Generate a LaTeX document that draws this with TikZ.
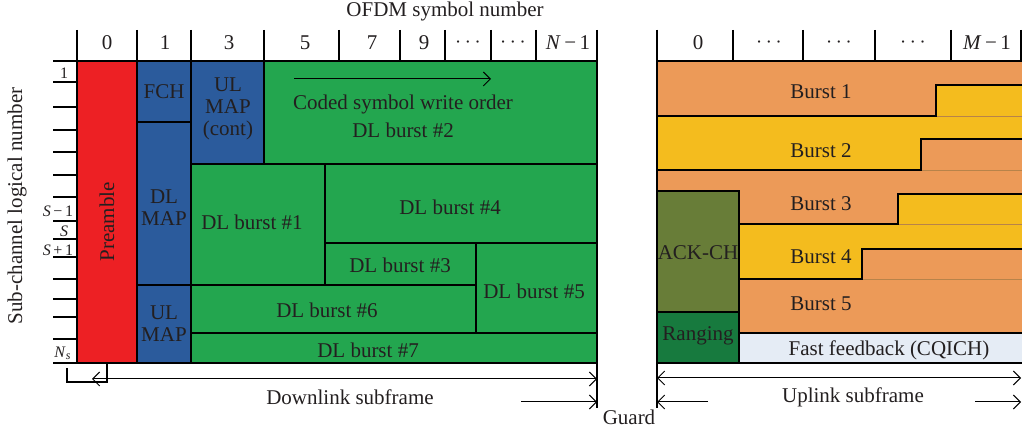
\documentclass[tikz,border=0pt]{standalone}
\usepackage{fontspec}
\setmainfont{Liberation Serif}
\usetikzlibrary{arrows.meta}
\definecolor{ink}{HTML}{231F20}
\definecolor{preamb}{HTML}{ED2024}
\definecolor{mapblue}{HTML}{2B5B9C}
\definecolor{dlgreen}{HTML}{23A64F}
\definecolor{ulorange}{HTML}{EC9A58}
\definecolor{ulyellow}{HTML}{F4BC1E}
\definecolor{ackolive}{HTML}{687D38}
\definecolor{rnggreen}{HTML}{177A3E}
\definecolor{cqich}{HTML}{E5ECF5}
\definecolor{seam}{HTML}{B7834A}
\tikzset{
  blk/.style={draw=black, line width=0.6pt},
  lbl/.style={text=ink, font=\fontsize{10.5}{11}\selectfont, align=center, inner sep=0pt},
  tiny/.style={text=ink, font=\fontsize{8}{9}\selectfont, inner sep=0pt},
  rule/.style={draw=black, line width=0.55pt},
  dim/.style={draw=black, line width=0.5pt, -{Straight Barb[length=3.5pt,width=7pt]}},
  dimboth/.style={draw=black, line width=0.5pt, {Straight Barb[length=3.5pt,width=7pt]}-{Straight Barb[length=3.5pt,width=7pt]}}
}
\begin{document}
\begin{tikzpicture}[x=0.5pt,y=-0.5pt]
\useasboundingbox (0,0) rectangle (1022,431);

% ---------- titles ----------
\node[lbl] (ofdm) at (445,11) {OFDM symbol number};
\node[lbl, rotate=90] (subch) at (17,206) {Sub-channel logical number};

% ---------- downlink header ----------
\foreach \xx in {77,137,191,264,339,400,445,491,536,597}
  \draw[rule] (\xx,30) -- (\xx,61);
\node[lbl] (d0) at (107,43) {0};
\node[lbl] (d1) at (165,43) {1};
\node[lbl] (d3) at (229,43) {3};
\node[lbl] (d5) at (305,43) {5};
\node[lbl] (d7) at (372,43) {7};
\node[lbl] (d9) at (424,43) {9};
\node[lbl] (dd1) at (468,43) {$\cdots$};
\node[lbl] (dd2) at (513,43) {$\cdots$};
\node[lbl] (dN) at (568,43) {\textit{N}\,−\,1};

% ---------- sub-channel axis ----------
\foreach \yy in {61,82,107,130,152,175,197,221,239,257,279,299,317,339,363}
  \draw[rule] (53,\yy) -- (77,\yy);
\node[tiny] (s1) at (64,73) {1};
\node[tiny] (sm) at (58,211) {\textit{S}\,−\,1};
\node[tiny] (s0) at (64,231) {\textit{S}};
\node[tiny] (sp) at (58,250) {\textit{S}\,+\,1};
\node[tiny] (sn) at (63,353) {\textit{N}\textsubscript{\textit{s}}};

% ---------- downlink subframe ----------
\draw[blk, fill=preamb]   (77,61)  rectangle (137,363);
\draw[blk, fill=mapblue]  (137,61) rectangle (191,122);
\draw[blk, fill=mapblue]  (137,122) rectangle (191,285);
\draw[blk, fill=mapblue]  (137,285) rectangle (191,363);
\draw[blk, fill=mapblue]  (191,61) rectangle (264,164);
\draw[blk, fill=dlgreen]  (264,61) rectangle (597,164);
\draw[blk, fill=dlgreen]  (191,164) rectangle (325,285);
\draw[blk, fill=dlgreen]  (325,164) rectangle (597,243);
\draw[blk, fill=dlgreen]  (325,243) rectangle (476,285);
\draw[blk, fill=dlgreen]  (476,243) rectangle (597,333);
\draw[blk, fill=dlgreen]  (191,285) rectangle (476,333);
\draw[blk, fill=dlgreen]  (191,333) rectangle (597,363);

\node[lbl, rotate=90] (pre) at (107,222) {Preamble};
\node[lbl] (fch) at (164,92) {FCH};
\node[lbl] (dlmap) at (164,208) {DL\\MAP};
\node[lbl] (ulmap) at (164,324) {UL\\MAP};
\node[lbl] (ulmapc) at (228,109) {UL\\MAP\\(cont)};
\coordinate (wstart) at (294,79);
\coordinate (wend) at (491,79);
\draw[dim] (wstart) -- (wend);
\node[lbl] (order) at (403,104) {Coded symbol write order};
\node[lbl] (b2) at (403,130) {DL burst \#2};
\node[lbl] (b1) at (252,222) {DL burst \#1};
\node[lbl] (b4) at (450,207) {DL burst \#4};
\node[lbl] (b3) at (400,265) {DL burst \#3};
\node[lbl] (b5) at (534,291) {DL burst \#5};
\node[lbl] (b6) at (327,310) {DL burst \#6};
\node[lbl] (b7) at (368,350) {DL burst \#7};

% ---------- uplink header ----------
\foreach \xx in {657,733,803,875,951,1021}
  \draw[rule] (\xx,30) -- (\xx,61);
\node[lbl] (u0) at (698,43) {0};
\node[lbl] (ud1) at (769,43) {$\cdots$};
\node[lbl] (ud2) at (839,43) {$\cdots$};
\node[lbl] (ud3) at (913,43) {$\cdots$};
\node[lbl] (uM) at (987,43) {\textit{M}\,−\,1};

% ---------- uplink subframe ----------
\fill[ulorange] (657,61)  rectangle (1022,116);
\fill[ulyellow] (936,85)  rectangle (1022,116);
\fill[ulyellow] (657,116) rectangle (1022,170);
\fill[ulorange] (921,139) rectangle (1022,170);
\fill[ulorange] (657,170) rectangle (1022,224);
\fill[ulyellow] (898,194) rectangle (1022,224);
\fill[ulyellow] (739,224) rectangle (1022,279);
\fill[ulorange] (862,249) rectangle (1022,279);
\fill[ulorange] (739,279) rectangle (1022,333);
\fill[cqich]    (739,333) rectangle (1022,363);
% faint seams where a burst continues into the next row
\draw[seam, line width=0.4pt] (936,116) -- (1022,116);
\draw[seam, line width=0.4pt] (921,170) -- (1022,170);
\draw[seam, line width=0.4pt] (898,224) -- (1022,224);
\draw[seam, line width=0.4pt] (862,279) -- (1022,279);
% burst outlines
\draw[blk] (657,61) -- (1022,61);
\draw[blk] (657,116) -- (936,116) -- (936,85) -- (1022,85);
\draw[blk] (657,170) -- (921,170) -- (921,139) -- (1022,139);
\draw[blk] (739,224) -- (898,224) -- (898,194) -- (1022,194);
\draw[blk] (739,279) -- (862,279) -- (862,249) -- (1022,249);
\draw[blk] (739,333) -- (1022,333);
\draw[blk] (739,363) -- (1022,363);
\draw[blk, fill=ackolive] (657,191) rectangle (739,312);
\draw[blk, fill=rnggreen] (657,312) rectangle (739,363);

\node[lbl] (u1) at (821,92) {Burst 1};
\node[lbl] (u2) at (821,151) {Burst 2};
\node[lbl] (u3) at (821,204) {Burst 3};
\node[lbl] (u4) at (821,257) {Burst 4};
\node[lbl] (u5) at (821,304) {Burst 5};
\node[lbl] (ack) at (698,253) {ACK-CH};
\node[lbl] (rng) at (698,336) {Ranging};
\node[lbl] (cq) at (889,350) {Fast feedback (CQICH)};

% ---------- frame boundaries and spans ----------
\draw[rule] (597,61) -- (597,408);
\draw[rule] (657,30) -- (657,408);
% preamble marker below the axis
\draw[rule] (67,368) -- (67,382) -- (107,382) -- (107,363);

\coordinate (dlL) at (92,379);
\coordinate (dlR) at (597,379);
\draw[dimboth] (dlL) -- (dlR);
\node[lbl] (dlsub) at (350,397) {Downlink subframe};
\coordinate (g1) at (521,402);
\coordinate (g1e) at (597,402);
\draw[dim] (g1) -- (g1e);
\node[lbl] (guard) at (629,417) {Guard};

\coordinate (ulL) at (657,378);
\coordinate (ulR) at (1021,378);
\draw[dimboth] (ulL) -- (ulR);
\node[lbl] (ulsub) at (853,397) {Uplink subframe};
\coordinate (g2) at (708,402);
\coordinate (g2e) at (657,402);
\draw[dim] (g2) -- (g2e);
\coordinate (g3) at (975,402);
\coordinate (g3e) at (1021,402);
\draw[dim] (g3) -- (g3e);
\end{tikzpicture}
\end{document}
